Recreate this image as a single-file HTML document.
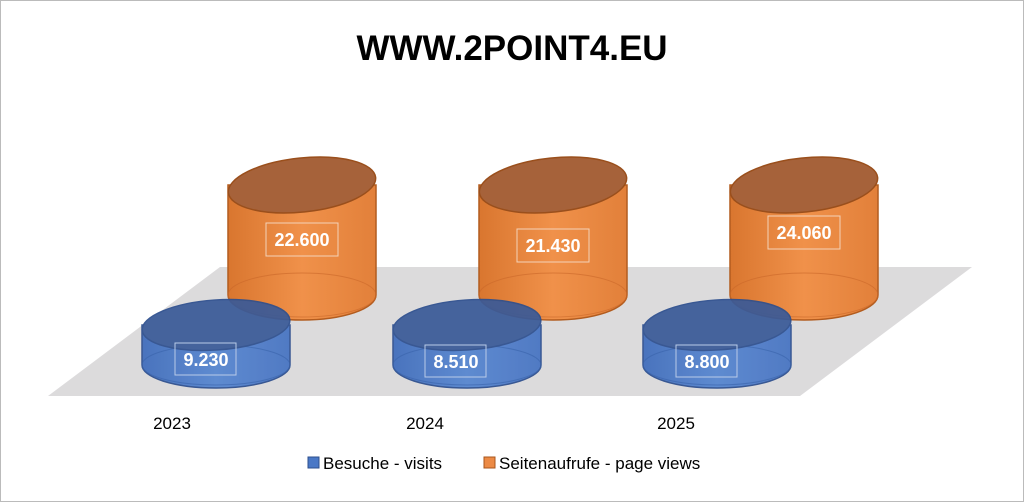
<!DOCTYPE html>
<html><head><style>
body{margin:0;background:#fff}
svg{display:block}
text{font-family:"Liberation Sans",sans-serif}
</style></head><body>
<svg width="1024" height="502" viewBox="0 0 1024 502">
<rect x="0.5" y="0.5" width="1023" height="501" fill="#fff" stroke="#bbb"/>
<text x="512" y="60" font-size="35" font-weight="bold" text-anchor="middle" fill="#000">WWW.2POINT4.EU</text>
<polygon points="48,396 800,396 972,267 220,267" fill="#dcdbdc"/>
<defs>
<linearGradient id="og" x1="0" x2="1"><stop offset="0" stop-color="#d9762f"/><stop offset="0.5" stop-color="#f0914a"/><stop offset="1" stop-color="#e2803a"/></linearGradient>
<linearGradient id="bg" x1="0" x2="1"><stop offset="0" stop-color="#3f6cbb"/><stop offset="0.5" stop-color="#5585d0"/><stop offset="1" stop-color="#4673c2"/></linearGradient>
<g id="oc">
<path d="M-74,0 L-74,110 A74,25 0 0 0 74,110 L74,0 Z" fill="url(#og)" stroke="#b25c1f" stroke-width="1.5"/>
<ellipse cx="0" cy="110" rx="74" ry="22" fill="none" stroke="#c9682a" stroke-width="1" opacity="0.6"/>
<ellipse cx="0" cy="0" rx="74" ry="27" transform="rotate(-6)" fill="#a6623a" stroke="#9a4f1c" stroke-width="1.5"/>
</g>
<g id="bc" opacity="0.93">
<path d="M-74,0 L-74,40 A74,23 0 0 0 74,40 L74,0 Z" fill="url(#bg)" stroke="#2d4f8e" stroke-width="1.5"/>
<ellipse cx="0" cy="40" rx="74" ry="20" fill="none" stroke="#2d5aa6" stroke-width="1" opacity="0.6"/>
<ellipse cx="0" cy="0" rx="74" ry="25" transform="rotate(-4)" fill="#3a5a98" stroke="#2d4f8e" stroke-width="1.5"/>
</g>
</defs>
<use href="#oc" x="302" y="185"/>
<use href="#oc" x="553" y="185"/>
<use href="#oc" x="804" y="185"/>
<use href="#bc" x="216" y="325"/>
<use href="#bc" x="467" y="325"/>
<use href="#bc" x="717" y="325"/>
<g fill="none" stroke="#f4d2b8" stroke-width="1">
<rect x="266" y="223" width="72" height="33"/><rect x="517" y="229" width="72" height="33"/><rect x="768" y="216" width="72" height="33"/>
</g>
<g fill="none" stroke="#b9cbe8" stroke-width="1">
<rect x="175" y="343" width="61" height="32"/><rect x="425" y="345" width="61" height="32"/><rect x="676" y="345" width="61" height="32"/>
</g>
<g font-size="18" font-weight="bold" fill="#fff" text-anchor="middle">
<text x="302" y="246">22.600</text><text x="553" y="252">21.430</text><text x="804" y="239">24.060</text>
<text x="206" y="366">9.230</text><text x="456" y="368">8.510</text><text x="707" y="368">8.800</text>
</g>
<g font-size="17" fill="#000" text-anchor="middle">
<text x="172" y="429">2023</text><text x="425" y="429">2024</text><text x="676" y="429">2025</text>
</g>
<rect x="308" y="457" width="11" height="11" fill="#4a78c6" stroke="#2d4f8e"/>
<text x="323" y="469" font-size="17">Besuche - visits</text>
<rect x="484" y="457" width="11" height="11" fill="#ec8a45" stroke="#a8561c"/>
<text x="499" y="469" font-size="17">Seitenaufrufe - page views</text>
</svg>
</body></html>
